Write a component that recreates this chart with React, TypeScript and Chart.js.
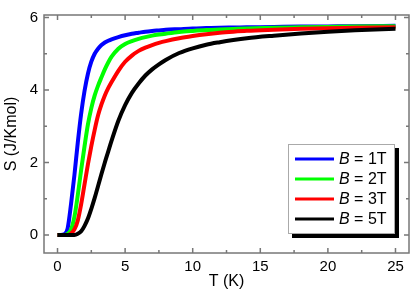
import React, { useEffect, useRef } from "react";
import { Chart, registerables } from "chart.js";

Chart.register(...registerables);

const temperatures = [0, 0.25, 0.5, 0.75, 1, 1.25, 1.5, 1.75, 2, 2.25, 2.5, 2.75, 3, 3.25, 3.5, 3.75, 4, 4.5, 5, 5.5, 6, 6.5, 7, 7.5, 8, 9, 10, 11, 12, 13, 14, 16, 18, 20, 22, 25];
const entropyB1 = [0, 0, 0.02, 0.18, 0.85, 1.65, 2.55, 3.35, 3.98, 4.45, 4.78, 5.0, 5.14, 5.24, 5.31, 5.36, 5.4, 5.46, 5.51, 5.55, 5.58, 5.61, 5.63, 5.645, 5.66, 5.68, 5.7, 5.71, 5.72, 5.725, 5.73, 5.74, 5.75, 5.755, 5.76, 5.77];
const entropyB2 = [0, 0, 0, 0.03, 0.15, 0.5, 1.1, 1.8, 2.45, 3.05, 3.5, 3.85, 4.12, 4.35, 4.57, 4.76, 4.92, 5.14, 5.27, 5.35, 5.41, 5.46, 5.5, 5.53, 5.555, 5.6, 5.63, 5.655, 5.67, 5.685, 5.7, 5.72, 5.73, 5.74, 5.75, 5.76];
const entropyB3 = [0, 0, 0, 0, 0.04, 0.15, 0.4, 0.85, 1.4, 1.95, 2.45, 2.9, 3.3, 3.6, 3.85, 4.05, 4.22, 4.53, 4.78, 4.95, 5.08, 5.17, 5.24, 5.3, 5.35, 5.43, 5.49, 5.54, 5.58, 5.61, 5.635, 5.665, 5.69, 5.705, 5.715, 5.73];
const entropyB5 = [0, 0, 0, 0, 0, 0, 0.03, 0.1, 0.25, 0.45, 0.72, 1.02, 1.35, 1.68, 2.0, 2.3, 2.6, 3.15, 3.58, 3.92, 4.18, 4.4, 4.57, 4.71, 4.83, 5.02, 5.15, 5.25, 5.32, 5.38, 5.43, 5.5, 5.56, 5.61, 5.65, 5.69];

const seriesFields = ["1T", "2T", "3T", "5T"];
const seriesValues = [entropyB1, entropyB2, entropyB3, entropyB5];
const seriesColors = ["#0000ff", "#00ff00", "#ff0000", "#000000"];

const xMajorTicks = [0, 5, 10, 15, 20, 25];
const xMinorTicks = [2.5, 7.5, 12.5, 17.5, 22.5];
const yMajorTicks = [0, 2, 4, 6];
const yMinorTicks = [1, 3, 5];

const FONT = "'Liberation Sans', Arial, sans-serif";
const FRAME = "#777777";

const framePlugin = {
  id: "frameTicksLegend",
  afterDatasetsDraw(chart: any) {
    const { ctx, chartArea } = chart;
    const { left, right, top, bottom } = chartArea;
    const xs = chart.scales.x;
    const ys = chart.scales.y;
    ctx.save();
    ctx.strokeStyle = FRAME;
    ctx.lineWidth = 1.5;
    ctx.strokeRect(left, top, right - left, bottom - top);
    const tick = (vals: number[], len: number) => {
      vals.forEach((v) => {
        const px = xs.getPixelForValue(v);
        ctx.beginPath();
        ctx.moveTo(px, bottom);
        ctx.lineTo(px, bottom - len);
        ctx.moveTo(px, top);
        ctx.lineTo(px, top + len);
        ctx.stroke();
      });
    };
    const ytick = (vals: number[], len: number) => {
      vals.forEach((v) => {
        const py = ys.getPixelForValue(v);
        ctx.beginPath();
        ctx.moveTo(left, py);
        ctx.lineTo(left + len, py);
        ctx.moveTo(right, py);
        ctx.lineTo(right - len, py);
        ctx.stroke();
      });
    };
    tick(xMajorTicks, 5);
    tick(xMinorTicks, 3);
    ytick(yMajorTicks, 5);
    ytick(yMinorTicks, 3);

    // legend
    const boxW = 107;
    const boxH = 90;
    const bx = right - 121;
    const by = bottom - 109;
    ctx.fillStyle = "#000";
    ctx.fillRect(bx + 4, by + 4, boxW, boxH);
    ctx.fillStyle = "#fff";
    ctx.fillRect(bx, by, boxW, boxH);
    ctx.strokeStyle = "#aaaaaa";
    ctx.lineWidth = 1;
    ctx.strokeRect(bx + 0.5, by + 0.5, boxW - 1, boxH - 1);
    seriesFields.forEach((f, i) => {
      const ry = by + 15 + i * 20;
      ctx.strokeStyle = seriesColors[i];
      ctx.lineWidth = 3;
      ctx.beginPath();
      ctx.moveTo(bx + 7, ry);
      ctx.lineTo(bx + 46, ry);
      ctx.stroke();
      ctx.fillStyle = "#000";
      ctx.textBaseline = "middle";
      ctx.textAlign = "left";
      ctx.font = `italic 16px ${FONT}`;
      ctx.fillText("B", bx + 51, ry + 1);
      const w = ctx.measureText("B").width;
      ctx.font = `16px ${FONT}`;
      ctx.fillText(` = ${f}`, bx + 51 + w, ry + 1);
    });
    ctx.restore();
  },
};

export default function App() {
  const ref = useRef<HTMLCanvasElement>(null);
  useEffect(() => {
    if (!ref.current) return;
    const datasets = seriesFields.map((f, i) => ({
      label: `B = ${f}`,
      data: temperatures.map((t, k) => ({ x: t, y: seriesValues[i][k] })),
      borderColor: seriesColors[i],
      backgroundColor: seriesColors[i],
      borderWidth: 4,
      pointRadius: 0,
      fill: false,
      cubicInterpolationMode: "monotone" as const,
      order: seriesFields.length - 1 - i,
    }));
    const chart = new Chart(ref.current, {
      type: "line",
      data: { datasets },
      options: {
        animation: false,
        responsive: false,
        layout: { padding: { top: 9, right: 6, left: 0, bottom: 0 } },
        plugins: { legend: { display: false }, tooltip: { enabled: false } },
        scales: {
          x: {
            type: "linear",
            min: -1,
            max: 26,
            grid: { display: false, drawTicks: false },
            border: { display: false },
            afterBuildTicks: (s: any) => {
              s.ticks = xMajorTicks.map((v) => ({ value: v }));
            },
            afterFit: (s: any) => {
              s.height = 41;
            },
            ticks: { color: "#000", padding: 5, font: { family: FONT, size: 15 }, maxRotation: 0 },
            title: { display: true, text: "T (K)", color: "#000", font: { family: FONT, size: 16 }, padding: { top: 0, bottom: 3 } },
          },
          y: {
            type: "linear",
            min: -0.5,
            max: 6.07,
            grid: { display: false, drawTicks: false },
            border: { display: false },
            afterBuildTicks: (s: any) => {
              s.ticks = yMajorTicks.map((v) => ({ value: v }));
            },
            afterFit: (s: any) => {
              s.width = 44;
            },
            ticks: { color: "#000", padding: 6, font: { family: FONT, size: 15 } },
            title: { display: true, text: "S (J/Kmol)", color: "#000", font: { family: FONT, size: 16 }, padding: { top: 2, bottom: 0 } },
          },
        },
      },
      plugins: [framePlugin],
    });
    return () => chart.destroy();
  }, []);
  return (
    <div style={{ position: "absolute", left: 0, top: 0, width: 415, height: 294, background: "#fff" }}>
      <canvas ref={ref} width={415} height={294} />
    </div>
  );
}
